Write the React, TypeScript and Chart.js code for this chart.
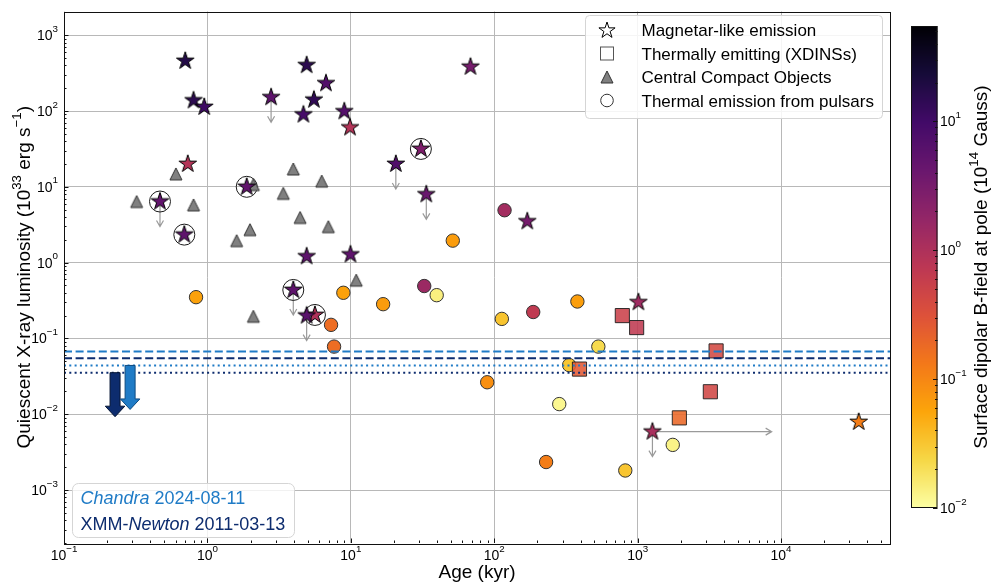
import { useEffect, useRef } from 'react';
import { Chart, registerables } from 'chart.js';

Chart.register(...registerables);

const FONT = '"Liberation Sans", Arial, Helvetica, sans-serif';

// Axis ranges and tick labels
const xTickValues = [0.1, 1, 10, 100, 1000, 10000];
const yTickValues = [0.001, 0.01, 0.1, 1, 10, 100, 1000];
const colorTickValues = [0.01, 0.1, 1, 10];
const X_MIN = 0.1;
const X_MAX = 57500;
const Y_MIN = 2.0e-4;
const Y_MAX = 2055;
const B_MIN = 0.01;
const B_MAX = 55;

// Magnetars: age (kyr), quiescent Lx (1e33 erg/s), polar B (1e14 G)
const magnetarAge = [0.70, 0.80, 0.95, 0.73, 0.467, 0.69, 1.88, 2.78, 4.92, 6.71, 5.53, 4.67, 9.0, 9.87, 30.8, 20.6, 33.6, 68.3, 170, 9.94, 4.92, 3.97, 5.62, 4.92, 1012, 1268, 34800];
const magnetarLx = [458, 138, 113, 20, 6.4, 2.34, 10, 152, 403, 232, 141, 89.7, 99, 60.7, 31.6, 20, 7.95, 383, 3.5, 1.28, 1.21, 0.436, 0.204, 0.20, 0.30, 0.00589, 0.0079];
const magnetarB = [18, 15.2, 10.7, 0.88, 4.9, 5.4, 4.9, 5.4, 15.2, 7.0, 13.9, 9.0, 6.7, 0.88, 2.7, 7.3, 4.2, 3.2, 3.2, 5.4, 5.4, 5.4, 0.96, 5.9, 1.36, 1.14, 0.12];
// sources that also show thermal emission from the surface (ringed)
const magnetarThermal = [false, false, false, false, true, true, true, false, false, false, false, false, false, false, true, false, false, false, false, false, false, true, true, false, false, false, false];
// luminosity upper limits
const magnetarUpperLimit = [false, false, false, false, true, false, false, true, false, false, false, false, false, false, false, true, true, false, false, false, false, true, false, true, false, true, false];
// age lower limits: the age the arrow reaches
const magnetarAgeLimit: (number | null)[] = [null, null, null, null, null, null, null, null, null, null, null, null, null, null, null, null, null, null, null, null, null, null, null, null, null, 8600, null];

// Central compact objects
const ccoAge = [0.321, 0.603, 0.80, 2.09, 3.97, 6.27, 3.38, 1.98, 1.60, 4.43, 6.97, 10.9, 2.09];
const ccoLx = [6.4, 14.8, 5.77, 10.7, 17.2, 11.9, 8.2, 2.72, 1.95, 3.94, 2.98, 0.587, 0.196];

// X-ray dim isolated neutron stars
const xdinsAge = [782, 984, 393, 3524, 3213, 1954];
const xdinsLx = [0.20, 0.139, 0.0394, 0.0684, 0.0198, 0.00895];
const xdinsB = [0.53, 0.68, 0.26, 0.41, 0.44, 0.19];

// Rotation-powered pulsars with thermal emission
const psrAge = [0.833, 8.87, 7.28, 7.64, 16.8, 51.4, 32.5, 39.7, 113, 187, 380, 532, 333, 89.3, 284, 1757, 230, 820, 118];
const psrLx = [0.35, 0.40, 0.151, 0.078, 0.283, 1.95, 0.491, 0.372, 0.181, 0.223, 0.307, 0.078, 0.0445, 0.0264, 0.0136, 0.00394, 0.00234, 0.00181, 4.91];
const psrB = [0.061, 0.061, 0.17, 0.17, 0.067, 0.067, 1.48, 0.014, 0.033, 0.68, 0.064, 0.022, 0.031, 0.086, 0.012, 0.013, 0.12, 0.032, 1.25];

// Quiescent luminosity limits of the new source: [dashed, dotted]
const chandraLimits = [0.0672, 0.044];
const xmmLimits = [0.0548, 0.0353];
const chandraArrowAge = 0.289;
const xmmArrowAge = 0.227;

const CHANDRA = '#1f7bc6';
const XMM = '#0d2c6e';
const GRID = '#b8b8b8';

const INFERNO = ['#000004', '#160b39', '#420a68', '#6a176e', '#932667', '#bc3754', '#dd513a', '#f37819', '#fca50a', '#f6d746', '#fcffa4']
  .map(h => [parseInt(h.slice(1, 3), 16), parseInt(h.slice(3, 5), 16), parseInt(h.slice(5, 7), 16)]);

function inferno(t: number, a = 1) {
  const tt = Math.max(0, Math.min(1, t));
  const p = tt * 10;
  const i = Math.min(9, Math.floor(p));
  const f = p - i;
  const c0 = INFERNO[i];
  const c1 = INFERNO[i + 1];
  const c = c0.map((v, k) => Math.round(v + (c1[k] - v) * f));
  return `rgba(${c[0]},${c[1]},${c[2]},${a})`;
}

// reversed inferno on a log scale of the field strength
function fieldColor(b: number, a = 1) {
  const t = (Math.log10(b) - Math.log10(B_MIN)) / (Math.log10(B_MAX) - Math.log10(B_MIN));
  return inferno(1 - t, a);
}

function starPath(ctx: CanvasRenderingContext2D, cx: number, cy: number, R: number) {
  ctx.beginPath();
  for (let k = 0; k < 10; k++) {
    const ang = -Math.PI / 2 + (k * Math.PI) / 5;
    const r = k % 2 === 0 ? R : R * 0.382;
    const px = cx + r * Math.cos(ang);
    const py = cy + r * Math.sin(ang);
    if (k === 0) ctx.moveTo(px, py);
    else ctx.lineTo(px, py);
  }
  ctx.closePath();
}

function starCanvas(fill: string, R: number) {
  const s = 2 * Math.ceil(R + 2);
  const c = document.createElement('canvas');
  c.width = s;
  c.height = s;
  const g = c.getContext('2d')!;
  starPath(g, s / 2, s / 2, R);
  g.fillStyle = fill;
  g.fill();
  g.lineWidth = 1;
  g.strokeStyle = '#000';
  g.lineJoin = 'miter';
  g.stroke();
  return c;
}

function triangleCanvas(fill: string, h: number) {
  const s = 2 * Math.ceil(h / 2 + 2);
  const c = document.createElement('canvas');
  c.width = s;
  c.height = s;
  const g = c.getContext('2d')!;
  const m = s / 2;
  g.beginPath();
  g.moveTo(m, m - h / 2);
  g.lineTo(m + h / 2, m + h / 2);
  g.lineTo(m - h / 2, m + h / 2);
  g.closePath();
  g.fillStyle = fill;
  g.fill();
  g.lineWidth = 1;
  g.strokeStyle = '#333';
  g.stroke();
  return c;
}

type Seg = { t: string; sup?: boolean; it?: boolean };

function segFont(s: Seg, size: number) {
  return `${s.it ? 'italic ' : ''}${s.sup ? size * 0.7 : size}px ${FONT}`;
}

function richWidth(ctx: CanvasRenderingContext2D, segs: Seg[], size: number) {
  let w = 0;
  for (const s of segs) {
    ctx.font = segFont(s, size);
    w += ctx.measureText(s.t).width;
  }
  return w;
}

function drawRich(ctx: CanvasRenderingContext2D, segs: Seg[], x: number, baseline: number, size: number, align: 'left' | 'center' | 'right', raise = 0.45) {
  const w = richWidth(ctx, segs, size);
  let cx = align === 'center' ? x - w / 2 : align === 'right' ? x - w : x;
  ctx.textAlign = 'left';
  ctx.textBaseline = 'alphabetic';
  for (const s of segs) {
    ctx.font = segFont(s, size);
    ctx.fillText(s.t, cx, s.sup ? baseline - size * raise : baseline);
    cx += ctx.measureText(s.t).width;
  }
}

function powLabel(v: number): Seg[] {
  const e = Math.round(Math.log10(v));
  return [{ t: '10' }, { t: e < 0 ? '\u2212' + -e : String(e), sup: true }];
}

function minorValues(lo: number, hi: number) {
  const out: number[] = [];
  for (let k = Math.floor(Math.log10(lo)); k <= Math.ceil(Math.log10(hi)); k++) {
    for (let m = 2; m <= 9; m++) {
      const v = m * Math.pow(10, k);
      if (v >= lo && v <= hi) out.push(v);
    }
  }
  return out;
}

function lineArrow(ctx: CanvasRenderingContext2D, x0: number, y0: number, x1: number, y1: number) {
  const len = Math.hypot(x1 - x0, y1 - y0);
  const dx = (x1 - x0) / len;
  const dy = (y1 - y0) / len;
  ctx.beginPath();
  ctx.moveTo(x0, y0);
  ctx.lineTo(x1, y1);
  ctx.moveTo(x1 - dx * 6 - dy * 3.5, y1 - dy * 6 + dx * 3.5);
  ctx.lineTo(x1, y1);
  ctx.lineTo(x1 - dx * 6 + dy * 3.5, y1 - dy * 6 - dx * 3.5);
  ctx.stroke();
}

function blockArrow(ctx: CanvasRenderingContext2D, cx: number, top: number, fill: string, edge: string) {
  const len = 44;
  const hl = 10.5;
  const sw = 5;
  const hw = 9.75;
  const tip = top + len;
  ctx.beginPath();
  ctx.moveTo(cx - sw, top);
  ctx.lineTo(cx + sw, top);
  ctx.lineTo(cx + sw, tip - hl);
  ctx.lineTo(cx + hw, tip - hl);
  ctx.lineTo(cx, tip);
  ctx.lineTo(cx - hw, tip - hl);
  ctx.lineTo(cx - sw, tip - hl);
  ctx.closePath();
  ctx.fillStyle = fill;
  ctx.fill();
  ctx.lineWidth = 1;
  ctx.strokeStyle = edge;
  ctx.stroke();
}

function roundRect(ctx: CanvasRenderingContext2D, x: number, y: number, w: number, h: number, r: number) {
  ctx.beginPath();
  ctx.moveTo(x + r, y);
  ctx.lineTo(x + w - r, y);
  ctx.arcTo(x + w, y, x + w, y + r, r);
  ctx.lineTo(x + w, y + h - r);
  ctx.arcTo(x + w, y + h, x + w - r, y + h, r);
  ctx.lineTo(x + r, y + h);
  ctx.arcTo(x, y + h, x, y + h - r, r);
  ctx.lineTo(x, y + r);
  ctx.arcTo(x, y, x + r, y, r);
  ctx.closePath();
}

const decorations = {
  id: 'decorations',
  beforeDatasetsDraw(chart: any) {
    const { ctx, scales: { x, y } } = chart;
    ctx.save();
    ctx.strokeStyle = '#9a9a9a';
    ctx.lineWidth = 1.2;
    magnetarAge.forEach((age, i) => {
      const px = x.getPixelForValue(age);
      const py = y.getPixelForValue(magnetarLx[i]);
      if (magnetarUpperLimit[i]) lineArrow(ctx, px, py, px, py + 25);
      const lim = magnetarAgeLimit[i];
      if (lim) lineArrow(ctx, px, py, x.getPixelForValue(lim), py);
    });
    ctx.restore();
  },
  afterDatasetsDraw(chart: any) {
    const { ctx, chartArea: a, scales: { x, y } } = chart;
    ctx.save();

    // luminosity limits
    const hline = (v: number, color: string, dash: number[]) => {
      const py = y.getPixelForValue(v);
      ctx.beginPath();
      ctx.setLineDash(dash);
      ctx.strokeStyle = color;
      ctx.lineWidth = 2;
      ctx.moveTo(a.left, py);
      ctx.lineTo(a.right, py);
      ctx.stroke();
    };
    hline(chandraLimits[0], CHANDRA, [8, 3.6]);
    hline(xmmLimits[0], XMM, [8, 3.6]);
    hline(chandraLimits[1], CHANDRA, [2, 3.3]);
    hline(xmmLimits[1], XMM, [2, 3.3]);
    ctx.setLineDash([]);
    blockArrow(ctx, x.getPixelForValue(xmmArrowAge), y.getPixelForValue(xmmLimits[1]), XMM, '#061634');
    blockArrow(ctx, x.getPixelForValue(chandraArrowAge), y.getPixelForValue(chandraLimits[1]), CHANDRA, '#0d4a80');

    // marker legend
    roundRect(ctx, 585.5, 15.5, 297, 103, 4);
    ctx.fillStyle = 'rgba(255,255,255,0.85)';
    ctx.fill();
    ctx.strokeStyle = '#d5d5d5';
    ctx.lineWidth = 1;
    ctx.stroke();
    const rows = [30, 53.5, 77, 100.5];
    const mx = 607;
    starPath(ctx, mx, rows[0] + 0.5, 8.5);
    ctx.fillStyle = '#fff';
    ctx.fill();
    ctx.strokeStyle = '#000';
    ctx.stroke();
    ctx.fillStyle = '#fff';
    ctx.fillRect(mx - 6.5, rows[1] - 6.5, 13, 13);
    ctx.strokeStyle = '#555';
    ctx.strokeRect(mx - 6.5, rows[1] - 6.5, 13, 13);
    ctx.beginPath();
    ctx.moveTo(mx, rows[2] - 6);
    ctx.lineTo(mx + 6, rows[2] + 6);
    ctx.lineTo(mx - 6, rows[2] + 6);
    ctx.closePath();
    ctx.fillStyle = '#808080';
    ctx.fill();
    ctx.strokeStyle = '#333';
    ctx.stroke();
    ctx.beginPath();
    ctx.arc(mx, rows[3], 6.3, 0, Math.PI * 2);
    ctx.fillStyle = '#fff';
    ctx.fill();
    ctx.strokeStyle = '#333';
    ctx.stroke();
    const legendLabels = ['Magnetar-like emission', 'Thermally emitting (XDINSs)', 'Central Compact Objects', 'Thermal emission from pulsars'];
    ctx.fillStyle = '#000';
    ctx.font = `17px ${FONT}`;
    ctx.textAlign = 'left';
    ctx.textBaseline = 'alphabetic';
    legendLabels.forEach((t, i) => ctx.fillText(t, 641.5, rows[i] + 6));

    // observation legend
    roundRect(ctx, 72.5, 483.5, 222, 54, 6);
    ctx.fillStyle = 'rgba(255,255,255,0.8)';
    ctx.fill();
    ctx.strokeStyle = '#d5d5d5';
    ctx.stroke();
    ctx.fillStyle = CHANDRA;
    drawRich(ctx, [{ t: 'Chandra', it: true }, { t: ' 2024-08-11' }], 80.5, 503.5, 18, 'left');
    ctx.fillStyle = XMM;
    drawRich(ctx, [{ t: 'XMM-' }, { t: 'Newton', it: true }, { t: ' 2011-03-13' }], 80.5, 529.5, 18, 'left');

    // frame
    ctx.strokeStyle = '#111';
    ctx.lineWidth = 1;
    ctx.strokeRect(Math.round(a.left) + 0.5, Math.round(a.top) + 0.5, Math.round(a.right - a.left), Math.round(a.bottom - a.top));

    // inward tick marks
    ctx.beginPath();
    for (const v of xTickValues) {
      const px = Math.round(x.getPixelForValue(v)) + 0.5;
      ctx.moveTo(px, a.bottom);
      ctx.lineTo(px, a.bottom - 4.5);
    }
    for (const v of minorValues(X_MIN, X_MAX)) {
      const px = Math.round(x.getPixelForValue(v)) + 0.5;
      ctx.moveTo(px, a.bottom);
      ctx.lineTo(px, a.bottom - 2.5);
    }
    for (const v of yTickValues) {
      const py = Math.round(y.getPixelForValue(v)) + 0.5;
      ctx.moveTo(a.left, py);
      ctx.lineTo(a.left + 4.5, py);
    }
    for (const v of minorValues(Y_MIN, Y_MAX)) {
      const py = Math.round(y.getPixelForValue(v)) + 0.5;
      ctx.moveTo(a.left, py);
      ctx.lineTo(a.left + 2.5, py);
    }
    ctx.stroke();

    // tick labels
    ctx.fillStyle = '#000';
    for (const v of xTickValues) drawRich(ctx, powLabel(v), x.getPixelForValue(v), 560, 14, 'center', 0.6);
    for (const v of yTickValues) drawRich(ctx, powLabel(v), 58, y.getPixelForValue(v) + 5, 14, 'right', 0.6);

    // axis titles
    ctx.font = `19px ${FONT}`;
    ctx.textAlign = 'center';
    ctx.fillText('Age (kyr)', (a.left + a.right) / 2, 577.5);
    ctx.save();
    ctx.translate(30, (a.top + a.bottom) / 2);
    ctx.rotate(-Math.PI / 2);
    drawRich(ctx, [{ t: 'Quiescent X-ray luminosity (10' }, { t: '33', sup: true }, { t: ' erg s' }, { t: '\u22121', sup: true }, { t: ')' }], 0, 0, 19, 'center');
    ctx.restore();

    // colour bar
    const cbL = 911;
    const cbR = 937.5;
    const cbT = 26;
    const cbB = 508;
    for (let yy = cbT; yy < cbB; yy++) {
      ctx.fillStyle = inferno((yy + 0.5 - cbT) / (cbB - cbT));
      ctx.fillRect(cbL, yy, cbR - cbL, 1);
    }
    ctx.strokeStyle = '#111';
    ctx.lineWidth = 1;
    ctx.strokeRect(cbL + 0.5, cbT + 0.5, cbR - cbL - 1, cbB - cbT - 1);
    const cbY = (v: number) => cbB - ((Math.log10(v) - Math.log10(B_MIN)) / (Math.log10(B_MAX) - Math.log10(B_MIN))) * (cbB - cbT);
    ctx.beginPath();
    for (const v of colorTickValues) {
      const py = Math.round(cbY(v)) + 0.5;
      ctx.moveTo(cbR, py);
      ctx.lineTo(cbR - 4.5, py);
    }
    for (const v of minorValues(B_MIN, B_MAX)) {
      const py = Math.round(cbY(v)) + 0.5;
      ctx.moveTo(cbR, py);
      ctx.lineTo(cbR - 2.5, py);
    }
    ctx.stroke();
    ctx.fillStyle = '#000';
    for (const v of colorTickValues) drawRich(ctx, powLabel(v), 940, cbY(v) + 5, 14, 'left', 0.6);
    ctx.save();
    ctx.translate(987, (cbT + cbB) / 2);
    ctx.rotate(-Math.PI / 2);
    drawRich(ctx, [{ t: 'Surface dipolar B-field at pole (10' }, { t: '14', sup: true }, { t: ' Gauss)' }], 0, 0, 19, 'center');
    ctx.restore();

    ctx.restore();
  },
};

export default function App() {
  const ref = useRef<HTMLCanvasElement>(null);

  useEffect(() => {
    document.body.style.margin = '0';
    const canvas = ref.current;
    if (!canvas) return;

    const starImgs = magnetarB.map(b => starCanvas(fieldColor(b), 9.2));
    const triImg = triangleCanvas('#808080', 12);
    const ringIdx = magnetarAge.map((_, i) => i).filter(i => magnetarThermal[i]);

    const axisBase = {
      type: 'logarithmic' as const,
      ticks: { display: false },
      grid: { color: GRID, lineWidth: 1, drawTicks: false },
      border: { display: false },
    };

    const chart = new Chart(canvas, {
      type: 'scatter',
      data: {
        datasets: [
          {
            label: 'Magnetar-like emission',
            data: magnetarAge.map((v, i) => ({ x: v, y: magnetarLx[i] })),
            pointStyle: starImgs as any,
            pointRadius: 9,
            order: 1,
          },
          {
            label: 'Central Compact Objects',
            data: ccoAge.map((v, i) => ({ x: v, y: ccoLx[i] })),
            pointStyle: triImg as any,
            pointRadius: 7,
            order: 2,
          },
          {
            label: 'Thermally emitting (XDINSs)',
            data: xdinsAge.map((v, i) => ({ x: v, y: xdinsLx[i] })),
            pointStyle: 'rect',
            pointRadius: 10,
            backgroundColor: xdinsB.map(b => fieldColor(b, 0.88)),
            borderColor: 'rgba(30,30,30,0.9)',
            borderWidth: 1,
            order: 3,
          },
          {
            label: 'Thermal emission from pulsars',
            data: psrAge.map((v, i) => ({ x: v, y: psrLx[i] })),
            pointStyle: 'circle',
            pointRadius: 6.7,
            backgroundColor: psrB.map(b => fieldColor(b)),
            borderColor: '#333',
            borderWidth: 1,
            order: 4,
          },
          {
            label: 'Thermal emission (magnetars)',
            data: ringIdx.map(i => ({ x: magnetarAge[i], y: magnetarLx[i] })),
            pointStyle: 'circle',
            pointRadius: 10.5,
            backgroundColor: 'rgba(255,255,255,0)',
            borderColor: '#1a1a1a',
            borderWidth: 1,
            order: 5,
          },
        ],
      },
      options: {
        responsive: false,
        animation: false,
        devicePixelRatio: 1,
        events: [],
        layout: { padding: { left: 64, top: 5, right: 105, bottom: 43 } },
        plugins: { legend: { display: false }, tooltip: { enabled: false } },
        scales: {
          x: {
            ...axisBase,
            min: X_MIN,
            max: X_MAX,
            afterBuildTicks: (s: any) => {
              s.ticks = xTickValues.map(v => ({ value: v }));
            },
          },
          y: {
            ...axisBase,
            min: Y_MIN,
            max: Y_MAX,
            afterBuildTicks: (s: any) => {
              s.ticks = yTickValues.map(v => ({ value: v }));
            },
          },
        },
      },
      plugins: [decorations],
    } as any);

    return () => chart.destroy();
  }, []);

  return (
    <div style={{ width: 995, height: 586, background: '#fff' }}>
      <canvas ref={ref} width={995} height={586} style={{ display: 'block' }} />
    </div>
  );
}
